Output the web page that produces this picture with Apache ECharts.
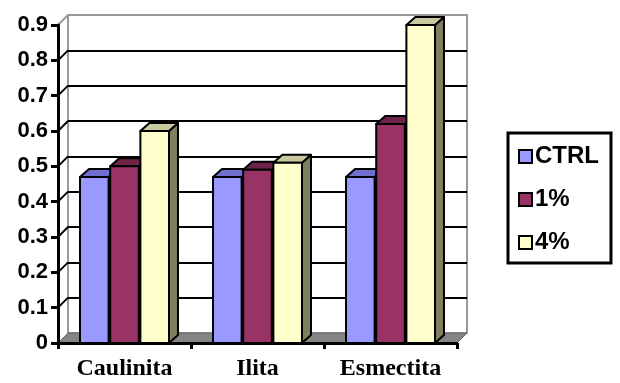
<!DOCTYPE html>
<html>
<head>
<meta charset="utf-8">
<script src="https://cdn.jsdelivr.net/npm/echarts@6/dist/echarts.min.js"></script>
<style>
  html, body { margin: 0; padding: 0; background: #fff; }
  #chart { width: 620px; height: 383px; }
</style>
</head>
<body>
<div id="chart"></div>
<script>
// data
const categories = ['Caulinita', 'Ilita', 'Esmectita'];
const seriesNames = ['CTRL', '1%', '4%'];
const ctrlValues = [0.47, 0.47, 0.47];
const pct1Values = [0.50, 0.49, 0.62];
const pct4Values = [0.60, 0.51, 0.90];
const yMin = 0;
const yMax = 0.9;
const yStep = 0.1;

const frontColors = ['#9999ff', '#993366', '#ffffcc'];
const topColors = ['#6f6fd0', '#6e2449', '#c9c9a0'];
const sideColors = ['#6b6bb3', '#6b2447', '#808060'];

// depth of the 3d look
const DX = 9, DY = 8;
const WALL_DX = 10, WALL_DY = 10;

const chart = echarts.init(document.getElementById('chart'));

function bar3d(idx) {
  return function (params, api) {
    const cat = api.value(0);
    const val = api.value(1);
    const topPt = api.coord([cat, val]);
    const basePt = api.coord([cat, 0]);
    const band = api.size([1, 0])[0];
    const w = band * 0.215;
    const cx = topPt[0] + (idx - 1) * band * 0.227;
    const x0 = cx - w / 2, x1 = cx + w / 2;
    const yt = topPt[1], yb = basePt[1];
    const stroke = { stroke: '#000', lineWidth: 2, lineJoin: 'round' };
    return {
      type: 'group',
      children: [
        {
          type: 'polygon',
          shape: { points: [[x1, yt], [x1 + DX, yt - DY], [x1 + DX, yb - DY], [x1, yb]] },
          style: Object.assign({ fill: sideColors[idx] }, stroke)
        },
        {
          type: 'polygon',
          shape: { points: [[x0, yt], [x0 + DX, yt - DY], [x1 + DX, yt - DY], [x1, yt]] },
          style: Object.assign({ fill: topColors[idx] }, stroke)
        },
        {
          type: 'rect',
          shape: { x: x0, y: yt, width: w, height: yb - yt },
          style: Object.assign({ fill: frontColors[idx] }, stroke)
        }
      ]
    };
  };
}

function walls(params, api) {
  const cs = params.coordSys;
  const left = cs.x, right = cs.x + cs.width;
  const bottom = cs.y + cs.height, top = cs.y;
  const children = [];
  // floor
  children.push({
    type: 'polygon',
    shape: { points: [[left, bottom], [left + WALL_DX, bottom - WALL_DY], [right + WALL_DX, bottom - WALL_DY], [right, bottom]] },
    style: { fill: '#858585', stroke: '#666', lineWidth: 1 }
  });
  // side wall gridlines
  for (let v = yStep; v < yMax - 1e-9; v += yStep) {
    const y = api.coord([0, v])[1];
    children.push({
      type: 'line',
      shape: { x1: left, y1: y, x2: left + WALL_DX, y2: y - WALL_DY },
      style: { stroke: '#000', lineWidth: 2 }
    });
  }
  // side wall top edge
  children.push({
    type: 'line',
    shape: { x1: left, y1: top, x2: left + WALL_DX, y2: top - WALL_DY },
    style: { stroke: '#999', lineWidth: 2 }
  });
  return { type: 'group', children: children };
}

const splitColors = ['#999'];
for (let v = yStep; v < yMax - 1e-9; v += yStep) splitColors.push('#000');
splitColors.push('#999');

const valueSets = [ctrlValues, pct1Values, pct4Values];

const option = {
  backgroundColor: '#fff',
  animation: false,
  grid: [
    { left: 58, top: 25, width: 399, height: 318 },
    { left: 68, top: 15, width: 399, height: 318, show: true, borderColor: '#999', borderWidth: 2, backgroundColor: '#fff', z: -1 }
  ],
  xAxis: [
    {
      type: 'category', gridIndex: 0, data: categories,
      axisLine: { lineStyle: { color: '#000', width: 3 } },
      axisTick: { show: true, length: 6, lineStyle: { color: '#000', width: 3 } },
      axisLabel: { margin: 14, color: '#000', fontFamily: 'Liberation Serif', fontWeight: 'bold', fontSize: 24 },
      z: 5
    },
    { type: 'category', gridIndex: 1, data: categories, show: false }
  ],
  yAxis: [
    {
      type: 'value', gridIndex: 0, min: yMin, max: yMax, interval: yStep,
      axisLine: { show: true, lineStyle: { color: '#000', width: 3 } },
      axisTick: { show: true, length: 7, lineStyle: { color: '#000', width: 3 } },
      axisLabel: {
        margin: 10, color: '#000', fontFamily: 'Liberation Sans', fontWeight: 'bold', fontSize: 22,
        formatter: function (v) { return v === 0 ? '0' : String(+v.toFixed(1)); }
      },
      splitLine: { show: false },
      z: 5
    },
    {
      type: 'value', gridIndex: 1, min: yMin, max: yMax, interval: yStep,
      axisLine: { show: false }, axisTick: { show: false }, axisLabel: { show: false },
      splitLine: { show: true, lineStyle: { color: splitColors, width: 2 } }
    }
  ],
  legend: {
    orient: 'vertical',
    left: 508, top: 133,
    data: seriesNames,
    icon: 'rect',
    itemWidth: 13, itemHeight: 13, itemGap: 18,
    padding: [11, 12, 8, 10],
    borderColor: '#000', borderWidth: 3,
    selectedMode: false,
    textStyle: { color: '#000', fontFamily: 'Liberation Sans', fontWeight: 'bold', fontSize: 24, lineHeight: 25, padding: [0, 0, 0, -2] }
  },
  series: [
    {
      type: 'custom', name: 'walls', xAxisIndex: 0, yAxisIndex: 0, z: 1, silent: true,
      data: [[0, 0]], renderItem: walls
    }
  ].concat(seriesNames.map(function (name, i) {
    return {
      type: 'custom', name: name, xAxisIndex: 0, yAxisIndex: 0, z: 3,
      itemStyle: { color: frontColors[i], borderColor: '#000', borderWidth: 2 },
      data: valueSets[i].map(function (v, j) { return [j, v]; }),
      renderItem: bar3d(i)
    };
  }))
};

chart.setOption(option);
</script>
</body>
</html>
